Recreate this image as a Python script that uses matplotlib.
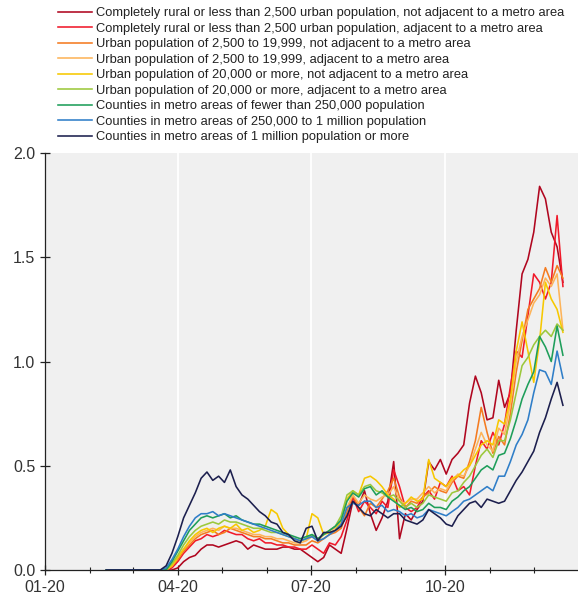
import numpy as np
import pandas as pd
import matplotlib
matplotlib.use("Agg")
import matplotlib.pyplot as plt
import matplotlib.dates as mdates

plt.rcParams["font.family"] = ["Liberation Sans", "DejaVu Sans"]

# Sample dates: one quiet point in February, then every 4 days from mid-March
dates = [pd.Timestamp("2020-02-12")] + list(pd.date_range("2020-03-16", periods=71, freq="4D"))

labels = [
    "Completely rural or less than 2,500 urban population, not adjacent to a metro area",
    "Completely rural or less than 2,500 urban population, adjacent to a metro area",
    "Urban population of 2,500 to 19,999, not adjacent to a metro area",
    "Urban population of 2,500 to 19,999, adjacent to a metro area",
    "Urban population of 20,000 or more, not adjacent to a metro area",
    "Urban population of 20,000 or more, adjacent to a metro area",
    "Counties in metro areas of fewer than 250,000 population",
    "Counties in metro areas of 250,000 to 1 million population",
    "Counties in metro areas of 1 million population or more",
]

rural_not_adj = [0,
    0, 0, 0, 0, 0.01, 0.04, 0.06, 0.07, 0.10, 0.12,
    0.12, 0.11, 0.12, 0.13, 0.14, 0.13, 0.10, 0.12, 0.11, 0.10,
    0.10, 0.10, 0.11, 0.11, 0.10, 0.10, 0.08, 0.06, 0.04, 0.06,
    0.12, 0.10, 0.08, 0.20, 0.33, 0.31, 0.38, 0.27, 0.19, 0.25,
    0.33, 0.52, 0.15, 0.27, 0.24, 0.29, 0.33, 0.52, 0.48, 0.53,
    0.46, 0.53, 0.56, 0.60, 0.80, 0.93, 0.85, 0.72, 0.73, 0.91,
    0.78, 0.85, 1.15, 1.42, 1.49, 1.62, 1.84, 1.78, 1.62, 1.55, 1.38]

rural_adj = [0,
    0, 0, 0, 0.01, 0.04, 0.08, 0.11, 0.14, 0.15, 0.17,
    0.16, 0.17, 0.19, 0.18, 0.17, 0.17, 0.15, 0.14, 0.15, 0.13,
    0.13, 0.12, 0.12, 0.11, 0.11, 0.10, 0.10, 0.12, 0.10, 0.08,
    0.13, 0.12, 0.16, 0.24, 0.35, 0.28, 0.33, 0.30, 0.27, 0.33,
    0.30, 0.48, 0.40, 0.30, 0.28, 0.30, 0.35, 0.38, 0.34, 0.42,
    0.40, 0.45, 0.38, 0.40, 0.36, 0.50, 0.62, 0.58, 0.66, 0.60,
    0.70, 0.88, 1.05, 1.02, 1.22, 1.42, 1.38, 1.30, 1.38, 1.70, 1.36]

small_urban_not_adj = [0,
    0, 0, 0, 0.02, 0.05, 0.09, 0.12, 0.15, 0.17, 0.18,
    0.19, 0.17, 0.18, 0.20, 0.19, 0.18, 0.17, 0.16, 0.16, 0.15,
    0.15, 0.14, 0.13, 0.13, 0.12, 0.12, 0.12, 0.14, 0.13, 0.15,
    0.17, 0.18, 0.20, 0.28, 0.36, 0.30, 0.26, 0.32, 0.30, 0.34,
    0.38, 0.44, 0.35, 0.30, 0.33, 0.32, 0.35, 0.37, 0.40, 0.38,
    0.37, 0.42, 0.45, 0.44, 0.52, 0.62, 0.78, 0.66, 0.56, 0.64,
    0.60, 0.75, 0.95, 1.10, 1.25, 1.30, 1.35, 1.45, 1.38, 1.46, 1.40]

small_urban_adj = [0,
    0, 0, 0, 0.02, 0.06, 0.10, 0.13, 0.16, 0.18, 0.19,
    0.20, 0.19, 0.21, 0.20, 0.20, 0.19, 0.18, 0.17, 0.17, 0.16,
    0.16, 0.15, 0.15, 0.14, 0.13, 0.13, 0.14, 0.16, 0.14, 0.17,
    0.19, 0.20, 0.23, 0.30, 0.36, 0.32, 0.36, 0.34, 0.33, 0.35,
    0.36, 0.40, 0.33, 0.32, 0.34, 0.34, 0.37, 0.40, 0.37, 0.39,
    0.38, 0.43, 0.46, 0.45, 0.50, 0.58, 0.66, 0.60, 0.57, 0.68,
    0.65, 0.80, 1.00, 1.12, 1.20, 1.28, 1.32, 1.40, 1.36, 1.42, 1.15]

large_urban_not_adj = [0,
    0, 0, 0, 0.02, 0.06, 0.10, 0.14, 0.17, 0.19, 0.20,
    0.18, 0.20, 0.21, 0.20, 0.22, 0.19, 0.20, 0.18, 0.19, 0.21,
    0.29, 0.27, 0.20, 0.17, 0.15, 0.14, 0.15, 0.27, 0.25, 0.17,
    0.18, 0.19, 0.24, 0.34, 0.38, 0.36, 0.44, 0.45, 0.43, 0.40,
    0.36, 0.34, 0.30, 0.32, 0.35, 0.33, 0.34, 0.53, 0.44, 0.42,
    0.40, 0.44, 0.45, 0.48, 0.50, 0.55, 0.60, 0.62, 0.60, 0.72,
    0.70, 0.82, 1.05, 1.19, 1.05, 0.90, 1.10, 1.38, 1.30, 1.25, 1.14]

large_urban_adj = [0,
    0, 0, 0, 0.03, 0.07, 0.12, 0.16, 0.19, 0.21, 0.22,
    0.23, 0.22, 0.24, 0.23, 0.23, 0.22, 0.21, 0.20, 0.20, 0.19,
    0.18, 0.18, 0.17, 0.16, 0.15, 0.14, 0.15, 0.17, 0.15, 0.17,
    0.19, 0.21, 0.26, 0.36, 0.38, 0.36, 0.40, 0.41, 0.38, 0.37,
    0.35, 0.36, 0.33, 0.30, 0.32, 0.30, 0.32, 0.36, 0.35, 0.34,
    0.33, 0.37, 0.38, 0.42, 0.45, 0.50, 0.55, 0.58, 0.54, 0.62,
    0.62, 0.72, 0.85, 0.98, 1.02, 1.08, 1.12, 1.15, 1.12, 1.18, 1.15]

metro_small = [0,
    0, 0, 0, 0.04, 0.09, 0.14, 0.19, 0.22, 0.25, 0.26,
    0.25, 0.26, 0.27, 0.25, 0.26, 0.24, 0.23, 0.22, 0.22, 0.21,
    0.20, 0.19, 0.18, 0.17, 0.16, 0.15, 0.16, 0.17, 0.15, 0.17,
    0.19, 0.21, 0.24, 0.33, 0.37, 0.35, 0.39, 0.40, 0.36, 0.38,
    0.35, 0.33, 0.31, 0.29, 0.30, 0.28, 0.29, 0.32, 0.30, 0.30,
    0.29, 0.33, 0.35, 0.38, 0.40, 0.44, 0.48, 0.50, 0.48, 0.55,
    0.56, 0.63, 0.72, 0.82, 0.89, 0.95, 1.12, 1.07, 1.00, 1.17, 1.03]

metro_mid = [0,
    0, 0, 0.01, 0.05, 0.10, 0.16, 0.21, 0.25, 0.27, 0.27,
    0.28, 0.26, 0.27, 0.26, 0.25, 0.24, 0.23, 0.22, 0.21, 0.20,
    0.19, 0.18, 0.17, 0.16, 0.15, 0.14, 0.15, 0.16, 0.14, 0.15,
    0.17, 0.19, 0.22, 0.30, 0.32, 0.31, 0.33, 0.33, 0.30, 0.31,
    0.28, 0.29, 0.28, 0.26, 0.27, 0.25, 0.26, 0.29, 0.28, 0.27,
    0.26, 0.28, 0.30, 0.33, 0.34, 0.36, 0.38, 0.40, 0.38, 0.45,
    0.45, 0.52, 0.60, 0.65, 0.72, 0.85, 0.96, 0.95, 0.89, 1.05, 0.92]

metro_large = [0,
    0, 0, 0.02, 0.08, 0.16, 0.25, 0.31, 0.37, 0.44, 0.47,
    0.43, 0.45, 0.42, 0.48, 0.40, 0.36, 0.34, 0.31, 0.28, 0.26,
    0.23, 0.22, 0.18, 0.17, 0.14, 0.13, 0.20, 0.21, 0.14, 0.18,
    0.18, 0.19, 0.21, 0.26, 0.33, 0.30, 0.27, 0.26, 0.29, 0.27,
    0.25, 0.27, 0.27, 0.24, 0.23, 0.22, 0.24, 0.29, 0.27, 0.25,
    0.22, 0.21, 0.26, 0.29, 0.32, 0.33, 0.30, 0.34, 0.33, 0.32,
    0.33, 0.38, 0.43, 0.47, 0.52, 0.57, 0.66, 0.73, 0.82, 0.90, 0.79]

series = [rural_not_adj, rural_adj, small_urban_not_adj, small_urban_adj,
          large_urban_not_adj, large_urban_adj, metro_small, metro_mid, metro_large]
colors = ["#b0061f", "#f0192a", "#f47b20", "#fdb45a", "#f7c800",
          "#9cc83c", "#1e9e5a", "#2f7ec8", "#1c1f4e"]

fig = plt.figure(figsize=(5.78, 5.98), dpi=100)
ax = fig.add_axes([45 / 578, 1 - 570 / 598, 1 - 45 / 578, (570 - 153) / 598])
ax.set_facecolor("#f0f0f0")

handles = []
for vals, col, lab in zip(series, colors, labels):
    h, = ax.plot(dates, vals, color=col, lw=1.15, label=lab)
    handles.append(h)

ax.set_xlim(pd.Timestamp("2020-01-01"), pd.Timestamp("2020-12-31 08:00"))
ax.set_ylim(0, 2.0)
ax.set_yticks([0, 0.5, 1.0, 1.5, 2.0])
ax.yaxis.set_major_formatter(matplotlib.ticker.FormatStrFormatter("%.1f"))

ax.xaxis.set_major_locator(mdates.MonthLocator(bymonth=[1, 4, 7, 10]))
ax.xaxis.set_minor_locator(mdates.MonthLocator())
ax.xaxis.set_major_formatter(mdates.DateFormatter("%m-%y"))

ax.grid(axis="x", which="major", color="white", lw=1.3)
ax.set_axisbelow(True)
for s in ("top", "right"):
    ax.spines[s].set_visible(False)
for s in ("left", "bottom"):
    ax.spines[s].set_color("#222222")
    ax.spines[s].set_linewidth(0.9)

ax.tick_params(axis="both", which="major", direction="inout", length=7,
               width=0.9, color="#222222", labelsize=11.5, labelcolor="#333333")
ax.tick_params(axis="x", which="minor", direction="inout", length=4,
               width=0.8, color="#222222")
ax.tick_params(axis="x", which="major", pad=4)

fig.legend(handles=handles, loc="upper left", bbox_to_anchor=(58 / 578, 1 - 7 / 598),
           frameon=False, fontsize=9.3, handlelength=2.64, handletextpad=0.31,
           labelspacing=0.27, borderaxespad=0, borderpad=0, labelcolor="#222222")

fig.savefig("out.png", dpi=100)
